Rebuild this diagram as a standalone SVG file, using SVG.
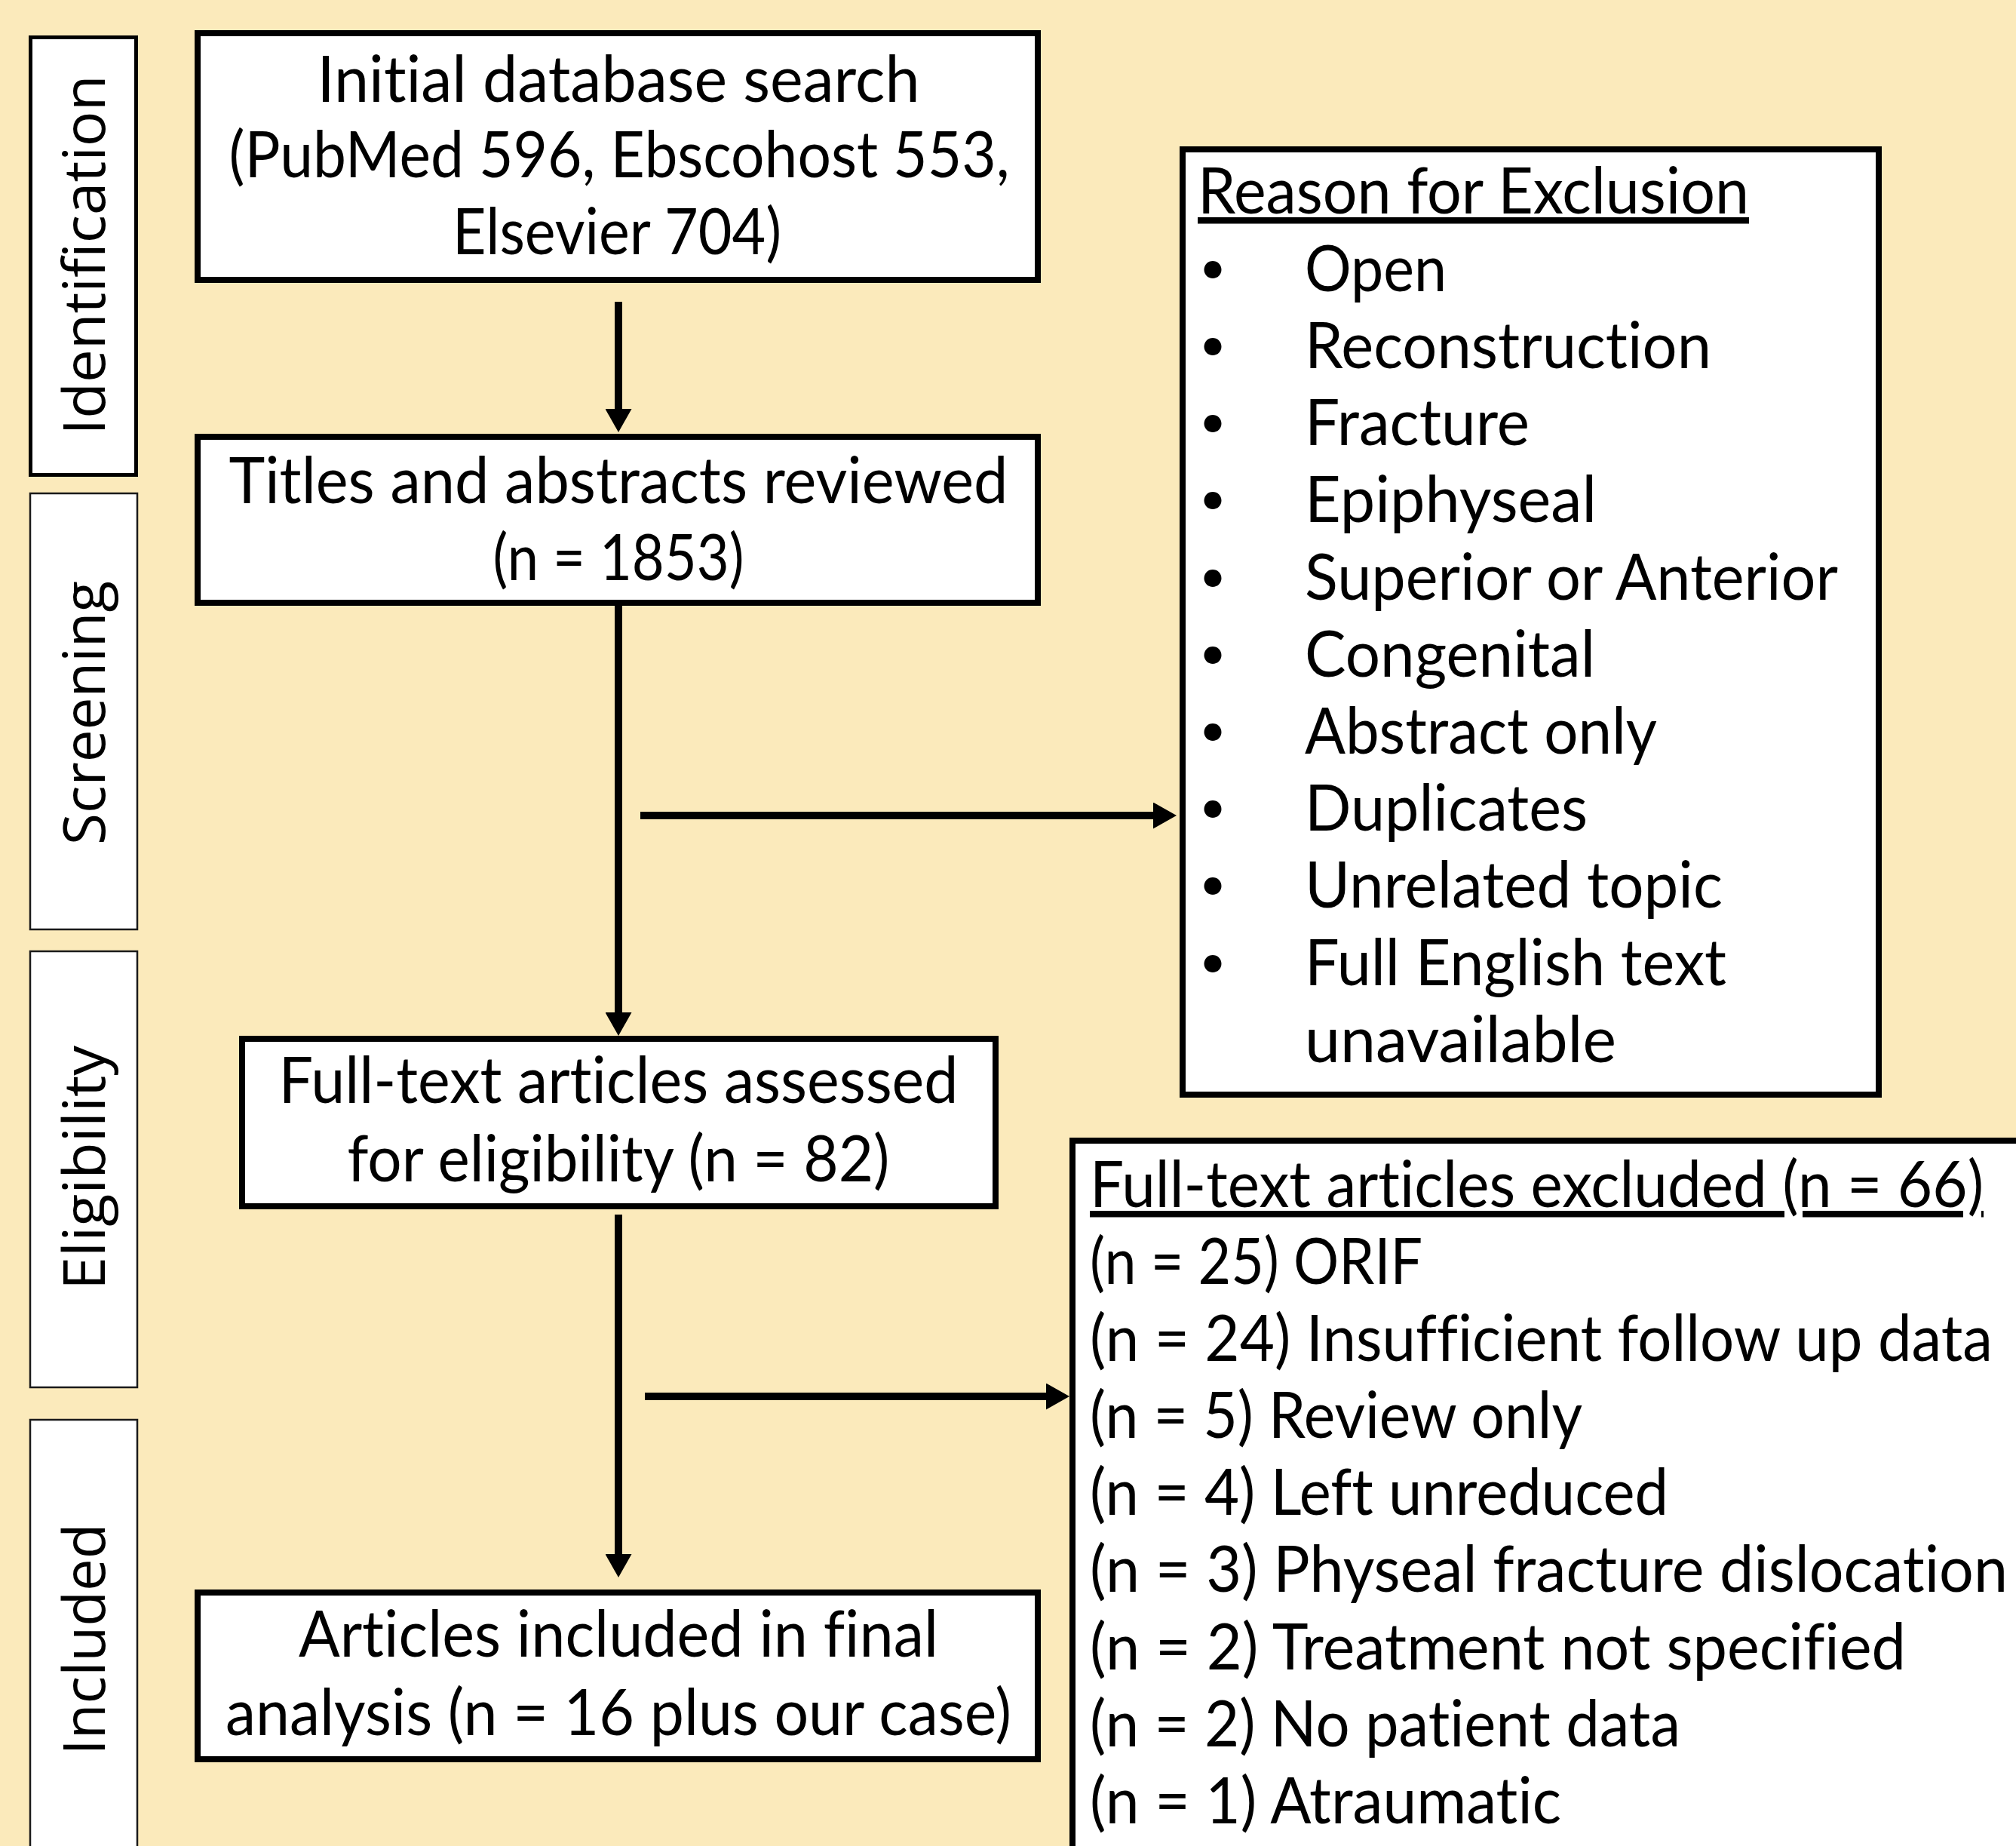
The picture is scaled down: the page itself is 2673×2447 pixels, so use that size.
<svg xmlns="http://www.w3.org/2000/svg" width="2673" height="2447" viewBox="0 0 2673 2447">
<defs>
<style>
.bg{fill:#FBEABB}
.box{fill:#ffffff;stroke:#000000;stroke-width:8}
.side{fill:#ffffff;stroke:#1a1a1a;stroke-width:2.5}
.sideT{fill:#ffffff;stroke:#000000;stroke-width:5}
text{font-variant-ligatures:none;font-feature-settings:"liga" 0,"clig" 0}
.t{font-family:Lato,"Open Sans","Liberation Sans",sans-serif;font-size:85px;fill:#000000}
.b{font-family:Lato,"Open Sans","Liberation Sans",sans-serif;font-size:62px;fill:#000000}
.c{text-anchor:middle}
.lab{font-family:"Open Sans",Lato,"Liberation Sans",sans-serif;font-size:77px;fill:#000000;text-anchor:middle}
.u{text-decoration:underline}
.conn{stroke:#000000;stroke-width:10;fill:none;marker-end:url(#ah)}
</style>
<marker id="ah" viewBox="0 0 31 35" refX="2" refY="17.5" markerWidth="31" markerHeight="35" markerUnits="userSpaceOnUse" orient="auto">
<path d="M0,0 L31,17.5 L0,35 Z" fill="#000000"/>
</marker>
</defs>
<rect class="bg" x="0" y="0" width="2673" height="2447"/>

<g id="stage-identification">
<rect class="sideT" x="40.5" y="49.5" width="140" height="580"/>
<text class="lab" transform="translate(139,338) rotate(-90)" textLength="477" lengthAdjust="spacingAndGlyphs">Identification</text>
</g>
<g id="stage-screening">
<rect class="side" x="40" y="654" width="142" height="578"/>
<text class="lab" transform="translate(139,945) rotate(-90)" textLength="350" lengthAdjust="spacingAndGlyphs">Screening</text>
</g>
<g id="stage-eligibility">
<rect class="side" x="40" y="1261" width="142" height="578"/>
<text class="lab" transform="translate(139,1548) rotate(-90)" textLength="324" lengthAdjust="spacingAndGlyphs">Eligibility</text>
</g>
<g id="stage-included">
<rect class="side" x="40" y="1882" width="142" height="700"/>
<text class="lab" transform="translate(139,2173) rotate(-90)" textLength="307" lengthAdjust="spacingAndGlyphs">Included</text>
</g>

<g id="connectors">
<line class="conn" x1="820" y1="400" x2="820" y2="544"/>
<line class="conn" x1="820" y1="800" x2="820" y2="1344"/>
<line class="conn" x1="820" y1="1610" x2="820" y2="2062"/>
<line class="conn" x1="849" y1="1081" x2="1531" y2="1081"/>
<line class="conn" x1="855" y1="1851" x2="1389" y2="1851"/>
</g>

<g id="node-initial">
<rect class="box" x="262" y="44" width="1114" height="327"/>
<text class="t c" x="820" y="135" textLength="799" lengthAdjust="spacingAndGlyphs">Initial database search</text>
<text class="t c" x="821" y="235" textLength="1035" lengthAdjust="spacingAndGlyphs">(PubMed 596, Ebscohost 553,</text>
<text class="t c" x="818" y="337" textLength="436" lengthAdjust="spacingAndGlyphs">Elsevier 704)</text>
</g>

<g id="node-titles">
<rect class="box" x="262" y="579" width="1114" height="220"/>
<text class="t c" x="820" y="667" textLength="1033" lengthAdjust="spacingAndGlyphs">Titles and abstracts reviewed</text>
<text class="t c" x="820" y="769" textLength="333" lengthAdjust="spacingAndGlyphs">(n = 1853)</text>
</g>

<g id="node-fulltext">
<rect class="box" x="321" y="1377" width="999" height="222"/>
<text class="t c" x="820" y="1462" textLength="901" lengthAdjust="spacingAndGlyphs">Full-text articles assessed</text>
<text class="t c" x="820" y="1566" textLength="719" lengthAdjust="spacingAndGlyphs">for eligibility (n = 82)</text>
</g>

<g id="node-included">
<rect class="box" x="262" y="2111" width="1114" height="221"/>
<text class="t c" x="820" y="2196" textLength="848" lengthAdjust="spacingAndGlyphs">Articles included in final</text>
<text class="t c" x="820" y="2300" textLength="1042" lengthAdjust="spacingAndGlyphs">analysis (n = 16 plus our case)</text>
</g>

<g id="node-reasons">
<rect class="box" x="1568" y="198" width="923" height="1253"/>
<text class="t u" x="1588" y="283" textLength="731" lengthAdjust="spacingAndGlyphs">Reason for Exclusion</text>
<text class="b" x="1590" y="376">•</text><text class="t" x="1730" y="386" textLength="188" lengthAdjust="spacingAndGlyphs">Open</text>
<text class="b" x="1590" y="478">•</text><text class="t" x="1730" y="488" textLength="539" lengthAdjust="spacingAndGlyphs">Reconstruction</text>
<text class="b" x="1590" y="580">•</text><text class="t" x="1730" y="590" textLength="298" lengthAdjust="spacingAndGlyphs">Fracture</text>
<text class="b" x="1590" y="682">•</text><text class="t" x="1730" y="692" textLength="387" lengthAdjust="spacingAndGlyphs">Epiphyseal</text>
<text class="b" x="1590" y="785">•</text><text class="t" x="1730" y="795" textLength="707" lengthAdjust="spacingAndGlyphs">Superior or Anterior</text>
<text class="b" x="1590" y="887">•</text><text class="t" x="1730" y="897" textLength="385" lengthAdjust="spacingAndGlyphs">Congenital</text>
<text class="b" x="1590" y="989">•</text><text class="t" x="1730" y="999" textLength="467" lengthAdjust="spacingAndGlyphs">Abstract only</text>
<text class="b" x="1590" y="1091">•</text><text class="t" x="1730" y="1101" textLength="375" lengthAdjust="spacingAndGlyphs">Duplicates</text>
<text class="b" x="1590" y="1193">•</text><text class="t" x="1730" y="1203" textLength="554" lengthAdjust="spacingAndGlyphs">Unrelated topic</text>
<text class="b" x="1590" y="1296">•</text><text class="t" x="1730" y="1306" textLength="559" lengthAdjust="spacingAndGlyphs">Full English text</text>
<text class="t" x="1730" y="1408" textLength="413" lengthAdjust="spacingAndGlyphs">unavailable</text>
</g>

<g id="node-excluded">
<rect class="box" x="1422" y="1512" width="1300" height="1000"/>
<text class="t u" x="1445" y="1600" textLength="1185" lengthAdjust="spacingAndGlyphs">Full-text articles excluded (n = 66)</text>
<text class="t" x="1445" y="1702" textLength="441" lengthAdjust="spacingAndGlyphs">(n = 25) ORIF</text>
<text class="t" x="1445" y="1804" textLength="1197" lengthAdjust="spacingAndGlyphs">(n = 24) Insufficient follow up data</text>
<text class="t" x="1445" y="1906" textLength="653" lengthAdjust="spacingAndGlyphs">(n = 5) Review only</text>
<text class="t" x="1445" y="2008" textLength="767" lengthAdjust="spacingAndGlyphs">(n = 4) Left unreduced</text>
<text class="t" x="1445" y="2110" textLength="1217" lengthAdjust="spacingAndGlyphs">(n = 3) Physeal fracture dislocation</text>
<text class="t" x="1445" y="2213" textLength="1082" lengthAdjust="spacingAndGlyphs">(n = 2) Treatment not specified</text>
<text class="t" x="1445" y="2315" textLength="783" lengthAdjust="spacingAndGlyphs">(n = 2) No patient data</text>
<text class="t" x="1445" y="2417" textLength="625" lengthAdjust="spacingAndGlyphs">(n = 1) Atraumatic</text>
</g>
</svg>
